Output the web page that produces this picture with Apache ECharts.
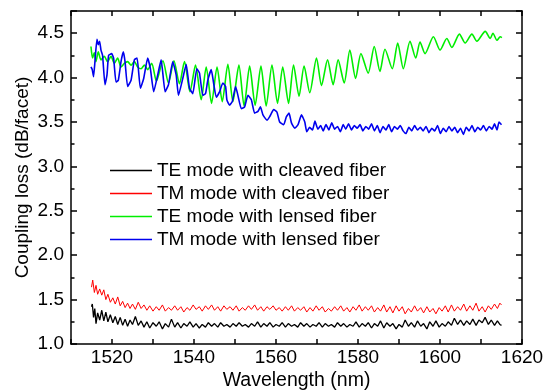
<!DOCTYPE html>
<html>
<head>
<meta charset="utf-8">
<script src="https://cdn.jsdelivr.net/npm/echarts@6/dist/echarts.min.js"></script>
<style>
  html, body { margin: 0; padding: 0; background: #fff; }
  #chart { width: 543px; height: 391px; }
</style>
</head>
<body>
<div id="chart"></div>
<script>
// wavelength (nm), coupling loss (dB/facet)
const teCleaved = [
  [1515.0,1.42],[1515.2,1.45],[1515.5,1.30],[1515.8,1.40],[1516.1,1.23],[1516.5,1.35],[1517.0,1.27],[1517.5,1.38],
  [1518.0,1.26],[1518.5,1.36],[1519.0,1.25],[1519.6,1.33],[1520.2,1.24],[1520.8,1.31],[1521.4,1.22],[1522.0,1.30],
  [1522.6,1.21],[1523.2,1.28],[1523.8,1.20],[1524.4,1.27],[1525.0,1.22],[1525.7,1.31],[1526.4,1.21],[1527.1,1.26],
  [1527.8,1.19],[1528.5,1.25],[1529.2,1.18],[1530.0,1.24],[1530.8,1.20],[1531.5,1.25],[1532.3,1.17],[1533.0,1.23],
  [1533.8,1.19],[1534.5,1.28],[1535.3,1.19],[1536.0,1.24],[1536.8,1.18],[1537.5,1.23],[1538.3,1.20],[1539.0,1.25],
  [1539.8,1.19],[1540.5,1.23],[1541.3,1.18],[1542.0,1.22],[1542.8,1.19],[1543.5,1.24],[1544.3,1.20],[1545.0,1.23],
  [1545.8,1.19],[1546.5,1.24],[1547.3,1.20],[1548.0,1.22],[1548.8,1.19],[1549.5,1.23],[1550.3,1.20],[1551.0,1.24],
  [1551.8,1.20],[1552.5,1.22],[1553.3,1.19],[1554.0,1.23],[1554.8,1.20],[1555.5,1.25],[1556.3,1.19],[1557.0,1.23],
  [1557.8,1.20],[1558.5,1.24],[1559.3,1.19],[1560.0,1.22],[1560.8,1.20],[1561.5,1.24],[1562.3,1.19],[1563.0,1.23],
  [1563.8,1.20],[1564.5,1.22],[1565.3,1.19],[1566.0,1.24],[1566.8,1.20],[1567.5,1.23],[1568.3,1.19],[1569.0,1.22],
  [1569.8,1.20],[1570.5,1.24],[1571.3,1.19],[1572.0,1.23],[1572.8,1.20],[1573.5,1.22],[1574.3,1.19],[1575.0,1.24],
  [1575.8,1.20],[1576.5,1.23],[1577.3,1.19],[1578.0,1.22],[1578.8,1.20],[1579.5,1.25],[1580.3,1.19],[1581.0,1.23],
  [1581.8,1.20],[1582.5,1.24],[1583.3,1.18],[1584.0,1.23],[1584.8,1.20],[1585.5,1.26],[1586.3,1.18],[1587.0,1.24],
  [1587.8,1.20],[1588.5,1.23],[1589.3,1.17],[1590.0,1.22],[1590.8,1.19],[1591.5,1.27],[1592.3,1.20],[1593.0,1.24],
  [1593.8,1.19],[1594.5,1.26],[1595.3,1.20],[1596.0,1.23],[1596.8,1.17],[1597.5,1.25],[1598.3,1.20],[1599.0,1.26],
  [1599.8,1.19],[1600.5,1.23],[1601.3,1.20],[1602.0,1.25],[1602.8,1.21],[1603.5,1.29],[1604.3,1.22],[1605.0,1.27],
  [1605.8,1.21],[1606.5,1.26],[1607.3,1.22],[1608.0,1.28],[1608.8,1.21],[1609.5,1.27],[1610.3,1.24],[1611.0,1.30],
  [1611.8,1.22],[1612.5,1.27],[1613.3,1.21],[1614.0,1.26],[1614.6,1.22],[1615.0,1.21]
];

const tmCleaved = [
  [1515.0,1.64],[1515.3,1.72],[1515.7,1.58],[1516.1,1.66],[1516.5,1.56],[1517.0,1.62],[1517.5,1.55],[1518.0,1.61],
  [1518.5,1.50],[1519.0,1.56],[1519.6,1.47],[1520.2,1.52],[1520.8,1.45],[1521.4,1.53],[1522.0,1.43],[1522.6,1.48],
  [1523.2,1.41],[1523.8,1.46],[1524.4,1.40],[1525.0,1.45],[1525.7,1.39],[1526.4,1.47],[1527.1,1.40],[1527.8,1.44],
  [1528.5,1.38],[1529.2,1.43],[1530.0,1.37],[1530.8,1.42],[1531.5,1.38],[1532.3,1.44],[1533.0,1.37],[1533.8,1.41],
  [1534.5,1.38],[1535.3,1.43],[1536.0,1.38],[1536.8,1.42],[1537.5,1.36],[1538.3,1.41],[1539.0,1.38],[1539.8,1.44],
  [1540.5,1.39],[1541.3,1.42],[1542.0,1.37],[1542.8,1.43],[1543.5,1.39],[1544.3,1.44],[1545.0,1.38],[1545.8,1.42],
  [1546.5,1.37],[1547.3,1.43],[1548.0,1.39],[1548.8,1.42],[1549.5,1.38],[1550.3,1.43],[1551.0,1.37],[1551.8,1.41],
  [1552.5,1.38],[1553.3,1.43],[1554.0,1.39],[1554.8,1.44],[1555.5,1.38],[1556.3,1.42],[1557.0,1.37],[1557.8,1.42],
  [1558.5,1.39],[1559.3,1.43],[1560.0,1.38],[1560.8,1.41],[1561.5,1.37],[1562.3,1.42],[1563.0,1.38],[1563.8,1.43],
  [1564.5,1.37],[1565.3,1.41],[1566.0,1.38],[1566.8,1.42],[1567.5,1.36],[1568.3,1.41],[1569.0,1.37],[1569.8,1.43],
  [1570.5,1.38],[1571.3,1.42],[1572.0,1.36],[1572.8,1.40],[1573.5,1.37],[1574.3,1.42],[1575.0,1.38],[1575.8,1.43],
  [1576.5,1.37],[1577.3,1.41],[1578.0,1.36],[1578.8,1.42],[1579.5,1.38],[1580.3,1.44],[1581.0,1.37],[1581.8,1.42],
  [1582.5,1.38],[1583.3,1.43],[1584.0,1.36],[1584.8,1.41],[1585.5,1.37],[1586.3,1.44],[1587.0,1.36],[1587.8,1.42],
  [1588.5,1.35],[1589.3,1.43],[1590.0,1.37],[1590.8,1.42],[1591.5,1.34],[1592.3,1.40],[1593.0,1.36],[1593.8,1.43],
  [1594.5,1.37],[1595.3,1.41],[1596.0,1.35],[1596.8,1.42],[1597.5,1.36],[1598.3,1.40],[1599.0,1.34],[1599.8,1.41],
  [1600.5,1.37],[1601.3,1.43],[1602.0,1.36],[1602.8,1.44],[1603.5,1.37],[1604.3,1.42],[1605.0,1.38],[1605.8,1.45],
  [1606.5,1.37],[1607.3,1.43],[1608.0,1.38],[1608.8,1.46],[1609.5,1.37],[1610.3,1.42],[1611.0,1.36],[1611.8,1.43],
  [1612.5,1.39],[1613.3,1.45],[1614.0,1.40],[1614.6,1.46],[1615.0,1.44]
];

const teLensed = [
  [1514.87,4.35],[1515.26,4.22],[1515.67,4.28],[1516.09,4.18],[1516.65,4.29],[1517.31,4.20],[1518.12,4.24],[1518.92,4.18],
  [1519.76,4.24],[1520.56,4.16],[1521.37,4.22],[1522.20,4.12],[1523.00,4.16],[1523.81,4.18],[1524.65,4.14],[1525.45,4.18],
  [1526.26,4.12],[1527.09,4.10],[1527.90,4.14],[1528.70,4.09],[1529.68,4.16],[1530.83,3.96],[1532.42,4.19],[1533.77,3.94],
  [1535.11,4.19],[1536.45,3.93],[1537.68,4.18],[1539.02,3.84],[1540.37,4.14],[1541.76,3.75],[1542.98,4.12],[1544.28,3.71],
  [1545.62,4.12],[1546.89,3.73],[1548.26,4.15],[1549.49,3.73],[1550.95,4.14],[1552.22,3.68],[1553.57,4.13],[1554.91,3.69],
  [1556.33,4.13],[1557.60,3.68],[1559.02,4.14],[1560.37,3.71],[1561.64,4.12],[1563.06,3.71],[1564.28,4.14],[1565.62,3.79],
  [1566.85,4.13],[1568.24,3.83],[1569.88,4.22],[1571.10,3.91],[1572.57,4.20],[1573.94,3.92],[1575.16,4.20],[1576.63,3.94],
  [1578.02,4.31],[1579.41,3.99],[1580.71,4.27],[1582.49,4.05],[1583.96,4.35],[1585.35,4.07],[1586.58,4.32],[1588.36,4.10],
  [1589.68,4.39],[1591.05,4.10],[1592.69,4.41],[1594.08,4.22],[1595.13,4.40],[1596.36,4.27],[1598.39,4.46],[1600.02,4.31],
  [1601.66,4.44],[1602.89,4.34],[1604.74,4.49],[1606.14,4.39],[1607.78,4.49],[1609.00,4.41],[1611.03,4.52],[1612.25,4.44],
  [1612.91,4.50],[1613.89,4.42],[1614.69,4.46],[1615.10,4.45]
];

const tmLensed = [
  [1514.87,4.12],[1515.18,4.09],[1515.50,4.01],[1515.84,4.18],[1516.33,4.43],[1516.65,4.37],[1516.97,4.41],[1517.31,4.31],
  [1517.70,4.25],[1518.29,3.92],[1518.78,4.03],[1519.17,4.25],[1519.90,4.27],[1520.39,4.22],[1520.98,3.95],[1521.54,3.97],
  [1522.20,4.18],[1522.76,4.29],[1523.18,4.18],[1523.81,3.90],[1524.65,3.97],[1525.45,4.20],[1526.11,4.22],[1526.92,3.88],
  [1527.73,3.99],[1528.70,4.22],[1529.36,4.10],[1530.17,3.84],[1531.15,4.03],[1531.98,4.20],[1532.96,3.84],[1533.77,3.92],
  [1534.82,4.18],[1535.65,4.03],[1536.21,3.80],[1537.26,3.99],[1538.09,4.15],[1538.90,3.88],[1539.71,3.82],[1540.68,4.10],
  [1541.34,4.05],[1542.15,3.80],[1542.81,3.82],[1543.37,3.97],[1544.21,4.09],[1544.77,3.94],[1545.43,3.78],[1546.23,3.84],
  [1547.04,3.94],[1547.70,3.90],[1548.02,3.75],[1548.68,3.69],[1549.34,3.73],[1550.15,3.90],[1550.71,3.80],[1551.54,3.65],
  [1552.35,3.67],[1553.15,3.80],[1553.99,3.75],[1554.79,3.60],[1555.60,3.62],[1556.19,3.67],[1556.82,3.58],[1557.80,3.52],
  [1558.46,3.56],[1559.44,3.64],[1560.24,3.61],[1560.90,3.50],[1561.88,3.47],[1562.54,3.56],[1563.18,3.60],[1563.77,3.49],
  [1564.57,3.43],[1565.38,3.47],[1566.21,3.58],[1567.02,3.50],[1567.50,3.39],[1568.20,3.44],[1568.90,3.41],[1569.50,3.51],
  [1570.20,3.42],[1570.90,3.46],[1571.50,3.40],[1572.20,3.47],[1572.90,3.41],[1573.60,3.49],[1574.30,3.42],[1575.00,3.45],
  [1575.70,3.39],[1576.40,3.47],[1577.00,3.42],[1577.70,3.48],[1578.40,3.41],[1579.10,3.46],[1579.80,3.43],[1580.50,3.47],
  [1581.20,3.40],[1581.90,3.45],[1582.60,3.42],[1583.30,3.48],[1584.00,3.40],[1584.70,3.46],[1585.40,3.38],[1586.10,3.45],
  [1586.80,3.41],[1587.50,3.47],[1588.20,3.39],[1588.90,3.45],[1589.60,3.42],[1590.30,3.46],[1591.00,3.40],[1591.70,3.37],
  [1592.40,3.44],[1593.10,3.40],[1593.80,3.46],[1594.50,3.41],[1595.20,3.44],[1595.90,3.40],[1596.60,3.45],[1597.30,3.38],
  [1598.00,3.43],[1598.70,3.40],[1599.40,3.46],[1600.10,3.37],[1600.80,3.43],[1601.50,3.39],[1602.20,3.45],[1602.90,3.40],
  [1603.60,3.44],[1604.30,3.38],[1605.00,3.43],[1605.70,3.36],[1606.40,3.44],[1607.10,3.40],[1607.80,3.46],[1608.50,3.39],
  [1609.20,3.44],[1609.90,3.41],[1610.60,3.46],[1611.30,3.40],[1612.00,3.45],[1612.70,3.42],[1613.30,3.48],[1613.90,3.41],
  [1614.40,3.50],[1615.00,3.47]
];

const seriesNames = [
  'TE mode with cleaved fiber',
  'TM mode with cleaved fiber',
  'TE mode with lensed fiber',
  'TM mode with lensed fiber'
];
const seriesColors = ['#000000', '#ff0000', '#00ee00', '#0000ee'];

const FONT = '"Liberation Sans", Arial, sans-serif';
const axisLine = { onZero: false, lineStyle: { color: '#000', width: 1.5 } };
const yTick = { inside: true, length: 6, lineStyle: { color: '#000', width: 1.5 } };
const yMinor = { show: true, splitNumber: 2, length: 3.5, lineStyle: { color: '#000', width: 1.5 } };
const xTick = { inside: true, length: 5, lineStyle: { color: '#000', width: 1.5 } };

const chart = echarts.init(document.getElementById('chart'));

chart.setOption({
  animation: false,
  backgroundColor: '#fff',
  textStyle: { fontFamily: FONT, color: '#000' },
  grid: { left: 71, right: 21, top: 11, bottom: 47, containLabel: false, outerBoundsMode: 'none' },
  legend: {
    left: 110,
    top: 161,
    orient: 'vertical',
    padding: 0,
    icon: 'rect',
    itemWidth: 42,
    itemHeight: 1.5,
    itemGap: 4,
    data: seriesNames,
    textStyle: { fontFamily: FONT, fontSize: 19, color: '#000' }
  },
  xAxis: [{
    type: 'value',
    min: 1510,
    max: 1620,
    interval: 10,
    position: 'bottom',
    axisLine,
    axisTick: xTick,
    splitLine: { show: false },
    axisLabel: {
      formatter: (v) => (v % 20 === 0 ? String(v) : ''),
      fontFamily: FONT, fontSize: 19, color: '#000', margin: 4
    },
    name: 'Wavelength (nm)',
    nameLocation: 'middle',
    nameGap: 27,
    nameMoveOverlap: false,
    nameTextStyle: { fontFamily: FONT, fontSize: 19.5, color: '#000' }
  }, {
    type: 'value',
    min: 1510,
    max: 1620,
    interval: 10,
    position: 'top',
    axisLine,
    axisTick: xTick,
    axisLabel: { show: false },
    splitLine: { show: false }
  }],
  yAxis: [{
    type: 'value',
    min: 1,
    max: 4.75,
    interval: 0.5,
    position: 'left',
    axisLine,
    axisTick: yTick,
    minorTick: yMinor,
    splitLine: { show: false },
    minorSplitLine: { show: false },
    axisLabel: {
      formatter: (v) => v.toFixed(1),
      showMaxLabel: false,
      fontFamily: FONT, fontSize: 19, color: '#000', margin: 7
    },
    name: 'Coupling loss (dB/facet)',
    nameLocation: 'middle',
    nameGap: 39,
    nameMoveOverlap: false,
    nameTextStyle: { fontFamily: FONT, fontSize: 19, color: '#000' }
  }, {
    type: 'value',
    min: 1,
    max: 4.75,
    interval: 0.5,
    position: 'right',
    axisLine,
    axisTick: yTick,
    minorTick: yMinor,
    splitLine: { show: false },
    axisLabel: { show: false }
  }],
  series: [{
    name: seriesNames[0],
    type: 'line',
    data: teCleaved,
    symbol: 'none',
    lineStyle: { color: seriesColors[0], width: 1.3 },
    itemStyle: { color: seriesColors[0] }
  }, {
    name: seriesNames[1],
    type: 'line',
    data: tmCleaved,
    symbol: 'none',
    lineStyle: { color: seriesColors[1], width: 1 },
    itemStyle: { color: seriesColors[1] }
  }, {
    name: seriesNames[2],
    type: 'line',
    data: teLensed,
    symbol: 'none',
    smooth: 0.25,
    lineStyle: { color: seriesColors[2], width: 1.6 },
    itemStyle: { color: seriesColors[2] }
  }, {
    name: seriesNames[3],
    type: 'line',
    data: tmLensed,
    symbol: 'none',
    smooth: 0.15,
    lineStyle: { color: seriesColors[3], width: 1.6 },
    itemStyle: { color: seriesColors[3] }
  }]
});

window.addEventListener('resize', () => chart.resize());
</script>
</body>
</html>
